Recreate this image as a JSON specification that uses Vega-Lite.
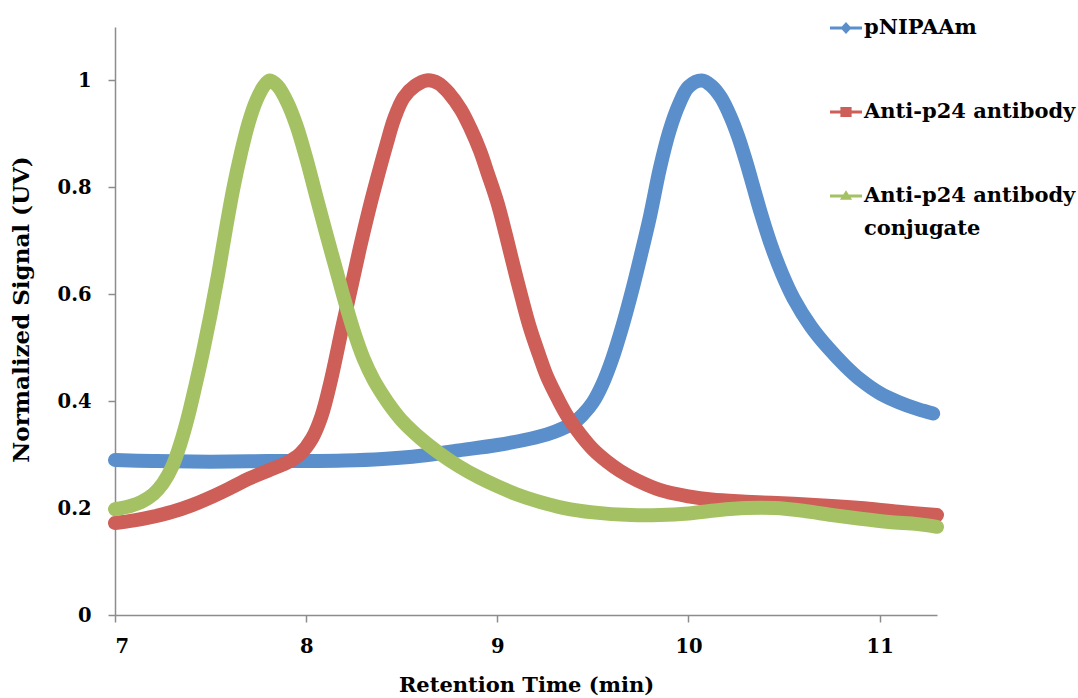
{
  "$schema": "https://vega.github.io/schema/vega-lite/v6.json",
  "width": 822,
  "height": 588,
  "autosize": "none",
  "padding": {"left": 115, "top": 27, "right": 141, "bottom": 83},
  "background": "white",
  "config": {
    "view": {"stroke": null},
    "axis": {
      "grid": false,
      "domainColor": "#8c8c8c",
      "domainWidth": 1.5,
      "tickColor": "#8c8c8c",
      "tickWidth": 1.5,
      "tickSize": 7,
      "labelFont": "DejaVu Serif",
      "labelFontWeight": "bold",
      "labelFontSize": 19.5,
      "labelColor": "black",
      "titleFont": "DejaVu Serif",
      "titleFontWeight": "bold",
      "titleColor": "black"
    }
  },
  "data": {
    "values": [
      {"t": 7.0, "v": 0.29, "s": "pNIPAAm"},
      {"t": 7.2, "v": 0.288, "s": "pNIPAAm"},
      {"t": 7.4, "v": 0.287, "s": "pNIPAAm"},
      {"t": 7.6, "v": 0.287, "s": "pNIPAAm"},
      {"t": 7.8, "v": 0.288, "s": "pNIPAAm"},
      {"t": 8.0, "v": 0.288, "s": "pNIPAAm"},
      {"t": 8.2, "v": 0.289, "s": "pNIPAAm"},
      {"t": 8.4, "v": 0.292, "s": "pNIPAAm"},
      {"t": 8.6, "v": 0.298, "s": "pNIPAAm"},
      {"t": 8.8, "v": 0.308, "s": "pNIPAAm"},
      {"t": 9.0, "v": 0.318, "s": "pNIPAAm"},
      {"t": 9.2, "v": 0.332, "s": "pNIPAAm"},
      {"t": 9.3, "v": 0.343, "s": "pNIPAAm"},
      {"t": 9.4, "v": 0.36, "s": "pNIPAAm"},
      {"t": 9.45, "v": 0.376, "s": "pNIPAAm"},
      {"t": 9.5, "v": 0.398, "s": "pNIPAAm"},
      {"t": 9.55, "v": 0.432, "s": "pNIPAAm"},
      {"t": 9.6, "v": 0.478, "s": "pNIPAAm"},
      {"t": 9.65, "v": 0.535, "s": "pNIPAAm"},
      {"t": 9.7, "v": 0.6, "s": "pNIPAAm"},
      {"t": 9.75, "v": 0.672, "s": "pNIPAAm"},
      {"t": 9.8, "v": 0.748, "s": "pNIPAAm"},
      {"t": 9.85, "v": 0.835, "s": "pNIPAAm"},
      {"t": 9.9, "v": 0.905, "s": "pNIPAAm"},
      {"t": 9.95, "v": 0.955, "s": "pNIPAAm"},
      {"t": 10.0, "v": 0.988, "s": "pNIPAAm"},
      {"t": 10.07, "v": 1.0, "s": "pNIPAAm"},
      {"t": 10.12, "v": 0.99, "s": "pNIPAAm"},
      {"t": 10.17, "v": 0.968, "s": "pNIPAAm"},
      {"t": 10.22, "v": 0.932, "s": "pNIPAAm"},
      {"t": 10.26, "v": 0.895, "s": "pNIPAAm"},
      {"t": 10.3, "v": 0.85, "s": "pNIPAAm"},
      {"t": 10.34, "v": 0.8, "s": "pNIPAAm"},
      {"t": 10.38, "v": 0.75, "s": "pNIPAAm"},
      {"t": 10.43, "v": 0.694, "s": "pNIPAAm"},
      {"t": 10.49, "v": 0.638, "s": "pNIPAAm"},
      {"t": 10.55, "v": 0.592, "s": "pNIPAAm"},
      {"t": 10.64, "v": 0.54, "s": "pNIPAAm"},
      {"t": 10.73, "v": 0.5, "s": "pNIPAAm"},
      {"t": 10.82, "v": 0.466, "s": "pNIPAAm"},
      {"t": 10.9, "v": 0.44, "s": "pNIPAAm"},
      {"t": 11.0, "v": 0.415, "s": "pNIPAAm"},
      {"t": 11.1, "v": 0.398, "s": "pNIPAAm"},
      {"t": 11.2, "v": 0.385, "s": "pNIPAAm"},
      {"t": 11.28, "v": 0.377, "s": "pNIPAAm"},

      {"t": 7.0, "v": 0.172, "s": "Anti-p24 antibody"},
      {"t": 7.1, "v": 0.177, "s": "Anti-p24 antibody"},
      {"t": 7.2, "v": 0.184, "s": "Anti-p24 antibody"},
      {"t": 7.3, "v": 0.193, "s": "Anti-p24 antibody"},
      {"t": 7.4, "v": 0.205, "s": "Anti-p24 antibody"},
      {"t": 7.5, "v": 0.22, "s": "Anti-p24 antibody"},
      {"t": 7.6, "v": 0.237, "s": "Anti-p24 antibody"},
      {"t": 7.7, "v": 0.255, "s": "Anti-p24 antibody"},
      {"t": 7.8, "v": 0.27, "s": "Anti-p24 antibody"},
      {"t": 7.9, "v": 0.285, "s": "Anti-p24 antibody"},
      {"t": 7.97, "v": 0.302, "s": "Anti-p24 antibody"},
      {"t": 8.03, "v": 0.33, "s": "Anti-p24 antibody"},
      {"t": 8.08, "v": 0.372, "s": "Anti-p24 antibody"},
      {"t": 8.13, "v": 0.44, "s": "Anti-p24 antibody"},
      {"t": 8.19, "v": 0.54, "s": "Anti-p24 antibody"},
      {"t": 8.24, "v": 0.62, "s": "Anti-p24 antibody"},
      {"t": 8.28, "v": 0.685, "s": "Anti-p24 antibody"},
      {"t": 8.33, "v": 0.76, "s": "Anti-p24 antibody"},
      {"t": 8.37, "v": 0.815, "s": "Anti-p24 antibody"},
      {"t": 8.42, "v": 0.88, "s": "Anti-p24 antibody"},
      {"t": 8.46, "v": 0.928, "s": "Anti-p24 antibody"},
      {"t": 8.51, "v": 0.968, "s": "Anti-p24 antibody"},
      {"t": 8.57, "v": 0.99, "s": "Anti-p24 antibody"},
      {"t": 8.63, "v": 1.0, "s": "Anti-p24 antibody"},
      {"t": 8.69, "v": 0.995, "s": "Anti-p24 antibody"},
      {"t": 8.75, "v": 0.975, "s": "Anti-p24 antibody"},
      {"t": 8.81, "v": 0.945, "s": "Anti-p24 antibody"},
      {"t": 8.86, "v": 0.91, "s": "Anti-p24 antibody"},
      {"t": 8.91, "v": 0.868, "s": "Anti-p24 antibody"},
      {"t": 8.95, "v": 0.826, "s": "Anti-p24 antibody"},
      {"t": 9.0, "v": 0.772, "s": "Anti-p24 antibody"},
      {"t": 9.04, "v": 0.718, "s": "Anti-p24 antibody"},
      {"t": 9.08, "v": 0.66, "s": "Anti-p24 antibody"},
      {"t": 9.13, "v": 0.59, "s": "Anti-p24 antibody"},
      {"t": 9.17, "v": 0.538, "s": "Anti-p24 antibody"},
      {"t": 9.22, "v": 0.485, "s": "Anti-p24 antibody"},
      {"t": 9.26, "v": 0.446, "s": "Anti-p24 antibody"},
      {"t": 9.32, "v": 0.402, "s": "Anti-p24 antibody"},
      {"t": 9.37, "v": 0.37, "s": "Anti-p24 antibody"},
      {"t": 9.44, "v": 0.335, "s": "Anti-p24 antibody"},
      {"t": 9.5, "v": 0.31, "s": "Anti-p24 antibody"},
      {"t": 9.57, "v": 0.288, "s": "Anti-p24 antibody"},
      {"t": 9.64, "v": 0.27, "s": "Anti-p24 antibody"},
      {"t": 9.73, "v": 0.252, "s": "Anti-p24 antibody"},
      {"t": 9.85, "v": 0.234, "s": "Anti-p24 antibody"},
      {"t": 10.0, "v": 0.222, "s": "Anti-p24 antibody"},
      {"t": 10.12, "v": 0.216, "s": "Anti-p24 antibody"},
      {"t": 10.3, "v": 0.212, "s": "Anti-p24 antibody"},
      {"t": 10.55, "v": 0.208, "s": "Anti-p24 antibody"},
      {"t": 10.75, "v": 0.204, "s": "Anti-p24 antibody"},
      {"t": 10.9, "v": 0.2, "s": "Anti-p24 antibody"},
      {"t": 11.1, "v": 0.193, "s": "Anti-p24 antibody"},
      {"t": 11.3, "v": 0.187, "s": "Anti-p24 antibody"},

      {"t": 7.0, "v": 0.198, "s": "Anti-p24 antibody conjugate"},
      {"t": 7.08, "v": 0.204, "s": "Anti-p24 antibody conjugate"},
      {"t": 7.14, "v": 0.212, "s": "Anti-p24 antibody conjugate"},
      {"t": 7.2, "v": 0.226, "s": "Anti-p24 antibody conjugate"},
      {"t": 7.25, "v": 0.246, "s": "Anti-p24 antibody conjugate"},
      {"t": 7.3, "v": 0.278, "s": "Anti-p24 antibody conjugate"},
      {"t": 7.34, "v": 0.318, "s": "Anti-p24 antibody conjugate"},
      {"t": 7.38, "v": 0.368, "s": "Anti-p24 antibody conjugate"},
      {"t": 7.42, "v": 0.428, "s": "Anti-p24 antibody conjugate"},
      {"t": 7.46, "v": 0.492, "s": "Anti-p24 antibody conjugate"},
      {"t": 7.5, "v": 0.562, "s": "Anti-p24 antibody conjugate"},
      {"t": 7.54, "v": 0.638, "s": "Anti-p24 antibody conjugate"},
      {"t": 7.58, "v": 0.722, "s": "Anti-p24 antibody conjugate"},
      {"t": 7.62, "v": 0.8, "s": "Anti-p24 antibody conjugate"},
      {"t": 7.66, "v": 0.866, "s": "Anti-p24 antibody conjugate"},
      {"t": 7.7, "v": 0.922, "s": "Anti-p24 antibody conjugate"},
      {"t": 7.74, "v": 0.963, "s": "Anti-p24 antibody conjugate"},
      {"t": 7.78, "v": 0.99, "s": "Anti-p24 antibody conjugate"},
      {"t": 7.81, "v": 1.0, "s": "Anti-p24 antibody conjugate"},
      {"t": 7.85, "v": 0.99, "s": "Anti-p24 antibody conjugate"},
      {"t": 7.9, "v": 0.96, "s": "Anti-p24 antibody conjugate"},
      {"t": 7.95, "v": 0.915, "s": "Anti-p24 antibody conjugate"},
      {"t": 8.0, "v": 0.855, "s": "Anti-p24 antibody conjugate"},
      {"t": 8.05, "v": 0.787, "s": "Anti-p24 antibody conjugate"},
      {"t": 8.1, "v": 0.72, "s": "Anti-p24 antibody conjugate"},
      {"t": 8.15, "v": 0.655, "s": "Anti-p24 antibody conjugate"},
      {"t": 8.2, "v": 0.59, "s": "Anti-p24 antibody conjugate"},
      {"t": 8.25, "v": 0.53, "s": "Anti-p24 antibody conjugate"},
      {"t": 8.3, "v": 0.48, "s": "Anti-p24 antibody conjugate"},
      {"t": 8.35, "v": 0.442, "s": "Anti-p24 antibody conjugate"},
      {"t": 8.4, "v": 0.412, "s": "Anti-p24 antibody conjugate"},
      {"t": 8.45, "v": 0.386, "s": "Anti-p24 antibody conjugate"},
      {"t": 8.5, "v": 0.364, "s": "Anti-p24 antibody conjugate"},
      {"t": 8.6, "v": 0.33, "s": "Anti-p24 antibody conjugate"},
      {"t": 8.7, "v": 0.302, "s": "Anti-p24 antibody conjugate"},
      {"t": 8.8, "v": 0.278, "s": "Anti-p24 antibody conjugate"},
      {"t": 8.9, "v": 0.258, "s": "Anti-p24 antibody conjugate"},
      {"t": 9.0, "v": 0.241, "s": "Anti-p24 antibody conjugate"},
      {"t": 9.1, "v": 0.226, "s": "Anti-p24 antibody conjugate"},
      {"t": 9.2, "v": 0.214, "s": "Anti-p24 antibody conjugate"},
      {"t": 9.35, "v": 0.2, "s": "Anti-p24 antibody conjugate"},
      {"t": 9.5, "v": 0.192, "s": "Anti-p24 antibody conjugate"},
      {"t": 9.7, "v": 0.187, "s": "Anti-p24 antibody conjugate"},
      {"t": 9.85, "v": 0.187, "s": "Anti-p24 antibody conjugate"},
      {"t": 10.0, "v": 0.19, "s": "Anti-p24 antibody conjugate"},
      {"t": 10.15, "v": 0.196, "s": "Anti-p24 antibody conjugate"},
      {"t": 10.3, "v": 0.2, "s": "Anti-p24 antibody conjugate"},
      {"t": 10.45, "v": 0.2, "s": "Anti-p24 antibody conjugate"},
      {"t": 10.6, "v": 0.195, "s": "Anti-p24 antibody conjugate"},
      {"t": 10.75, "v": 0.187, "s": "Anti-p24 antibody conjugate"},
      {"t": 10.9, "v": 0.18, "s": "Anti-p24 antibody conjugate"},
      {"t": 11.05, "v": 0.174, "s": "Anti-p24 antibody conjugate"},
      {"t": 11.2, "v": 0.17, "s": "Anti-p24 antibody conjugate"},
      {"t": 11.3, "v": 0.165, "s": "Anti-p24 antibody conjugate"}
    ]
  },
  "mark": {"type": "line", "strokeWidth": 14, "interpolate": "catmull-rom", "strokeCap": "round", "strokeJoin": "round"},
  "encoding": {
    "x": {
      "field": "t",
      "type": "quantitative",
      "scale": {"domain": [7, 11.3], "nice": false, "zero": false},
      "axis": {"values": [7, 8, 9, 10, 11], "title": "Retention Time (min)", "titleFontSize": 21, "labelPadding": 15, "titlePadding": 19}
    },
    "y": {
      "field": "v",
      "type": "quantitative",
      "scale": {"domain": [0, 1.1], "nice": false},
      "axis": {"values": [0, 0.2, 0.4, 0.6, 0.8, 1], "format": "~f", "title": "Normalized Signal (UV)", "titleFontSize": 23, "titleY": 282, "labelPadding": 17, "titlePadding": 24}
    },
    "color": {
      "field": "s",
      "type": "nominal",
      "sort": ["pNIPAAm", "Anti-p24 antibody", "Anti-p24 antibody conjugate"],
      "scale": {
        "domain": ["pNIPAAm", "Anti-p24 antibody", "Anti-p24 antibody conjugate"],
        "range": ["#5A8FCB", "#CD5E58", "#A4C263"]
      },
      "legend": {
        "orient": "none",
        "legendX": 715,
        "legendY": -15,
        "title": null,
        "padding": 0,
        "labelFont": "DejaVu Serif",
        "labelFontWeight": "bold",
        "labelFontSize": 21,
        "labelColor": "black",
        "labelLimit": 400,
        "labelOffset": 2,
        "rowPadding": 58,
        "symbolSize": 1024,
        "symbolType": "M-1,-0.09H1V0.09H-1Z",
        "symbolStrokeWidth": 0,
        "labelExpr": "datum.label == 'Anti-p24 antibody conjugate' ? ['Anti-p24 antibody', 'conjugate'] : datum.label",
        "encode": {
          "labels": {
            "update": {"lineHeight": {"value": 33}}
          },
          "symbols": {
            "update": {
              "shape": {"signal": "datum.value == 'pNIPAAm' ? 'M-1,-0.09H1V0.09H-1Z M0,-0.38L0.34,0L0,0.38L-0.34,0Z' : datum.value == 'Anti-p24 antibody' ? 'M-1,-0.09H1V0.09H-1Z M-0.35,-0.32H0.35V0.32H-0.35Z' : 'M-1,-0.09H1V0.09H-1Z M0,-0.36L0.38,0.24H-0.38Z'"},
              "fill": {"scale": "color", "field": "value"},
              "strokeWidth": {"value": 0}
            }
          }
        }
      }
    }
  }
}
